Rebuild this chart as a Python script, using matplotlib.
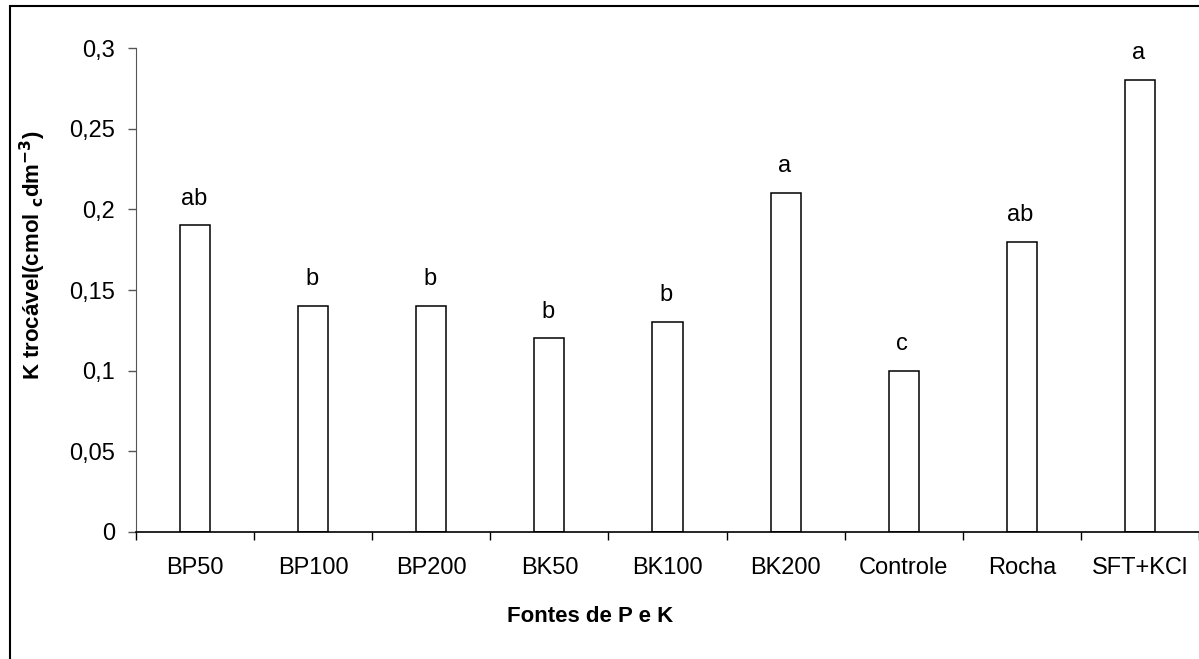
import matplotlib.pyplot as plt
from matplotlib.patches import Rectangle

plt.rcParams['font.family'] = ['Liberation Sans', 'DejaVu Sans']

categories = ["BP50", "BP100", "BP200", "BK50", "BK100", "BK200", "Controle", "Rocha", "SFT+KCl"]
k_values = [0.19, 0.14, 0.14, 0.12, 0.13, 0.21, 0.10, 0.18, 0.28]
letters = ["ab", "b", "b", "b", "b", "a", "c", "ab", "a"]
y_ticks = [0, 0.05, 0.1, 0.15, 0.2, 0.25, 0.3]
y_tick_labels = ["0", "0,05", "0,1", "0,15", "0,2", "0,25", "0,3"]

fig = plt.figure(figsize=(11.99, 6.59), dpi=100)

# outer chart frame (cropped at right and bottom like the original)
fig.patches.append(Rectangle((10 / 1199, -0.05), 1.2, 1 - 5.5 / 659 + 0.05,
                             transform=fig.transFigure, fill=False,
                             edgecolor="black", linewidth=1.5))

ax = fig.add_axes([136 / 1199, 1 - 532 / 659, 1063 / 1199, 484 / 659])
x = list(range(len(categories)))
bars = ax.bar(x, k_values, width=0.254, color="white", edgecolor="black", linewidth=1.1)

for xi, v, lab in zip(x, k_values, letters):
    ax.annotate(lab, (xi, v), xytext=(-1, 15), textcoords="offset points",
                ha="center", va="baseline", fontsize=17)

ax.set_xlim(-0.5, 8.5)
ax.set_ylim(0, 0.3)

# category boundaries as major ticks, names on minor ticks
ax.set_xticks([i - 0.5 for i in range(len(categories) + 1)])
ax.set_xticklabels([])
ax.set_xticks(x, minor=True)
ax.set_xticklabels(categories, minor=True, fontsize=17)
ax.tick_params(axis="x", which="major", length=6, width=1, direction="out")
ax.tick_params(axis="x", which="minor", length=0, pad=18)

ax.set_yticks(y_ticks)
ax.set_yticklabels(y_tick_labels, fontsize=17)
ax.tick_params(axis="y", length=6, width=1, color="#555555", pad=9)

ax.spines["top"].set_visible(False)
ax.spines["right"].set_visible(False)
ax.spines["left"].set_color("#555555")
ax.spines["bottom"].set_linewidth(1.2)
ax.spines["bottom"].set_zorder(5)

fig.text(590 / 1199, 1 - 616 / 659, "Fontes de P e K", ha="center", va="center",
         fontsize=16, fontweight="bold")
fig.text(33 / 1199, 1 - 255 / 659, r"K trocável(cmol $_{\mathbf{c}}$dm$^{\mathbf{-3}}$)",
         rotation=90, ha="center", va="center", fontsize=16, fontweight="bold")

fig.savefig("out.png", dpi=100)
